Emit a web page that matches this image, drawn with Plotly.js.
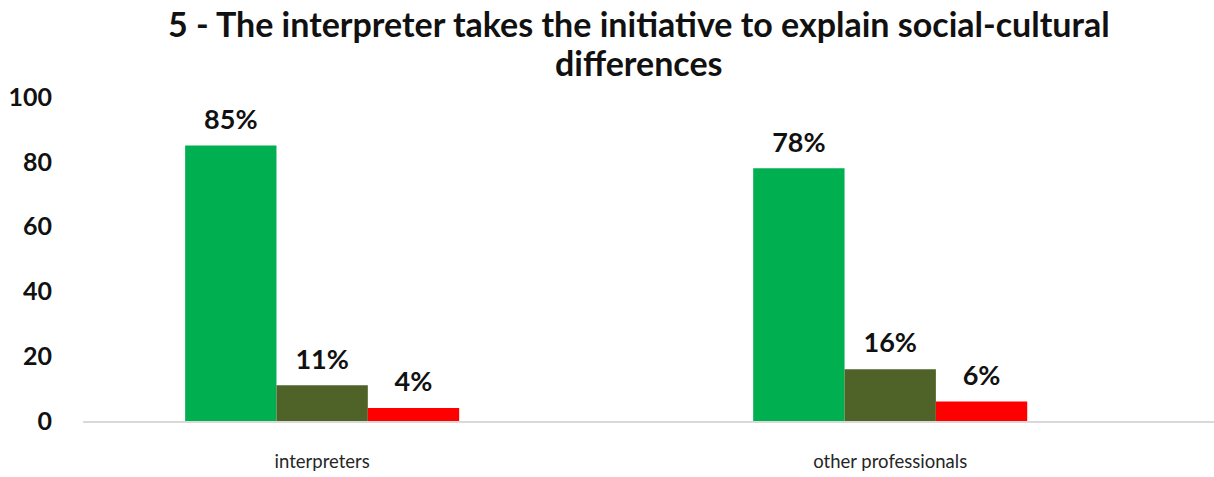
<!DOCTYPE html>
<html>
<head>
<meta charset="utf-8">
<script src="https://cdn.plot.ly/plotly-3.0.1.min.js"></script>
<style>html,body{margin:0;padding:0;background:#fff;}#chart{width:1214px;height:477px;}</style>
</head>
<body>
<div id="chart"></div>
<script>
const categories = ["interpreters", "other professionals"];
const seriesNames = ["Yes", "Partly", "No"];
const seriesColors = ["#00B050", "#4F6228", "#FF0000"];
const yesValues = [85, 78];
const partlyValues = [11, 16];
const noValues = [4, 6];
const yTicks = [0, 20, 40, 60, 80, 100];
const titleLines = ["5 - The interpreter takes the initiative to explain social-cultural", "differences"];

const seriesValues = [yesValues, partlyValues, noValues];
const traces = seriesValues.map((vals, i) => ({
  type: "bar",
  name: seriesNames[i],
  x: categories,
  y: vals,
  marker: {color: seriesColors[i]},
  text: vals.map(v => v + "%"),
  texttemplate: "<span style='font-size:27px'>%{text}</span><br> ",
  textposition: "outside",
  constraintext: "none",
  cliponaxis: false,
  textfont: {family: "Lato", size: 9, color: "#111", weight: 700},
  hoverinfo: "skip"
}));

const titleFont = {family: "Lato", size: 34, color: "#111", weight: 700};
const annotations = [
  {text: titleLines[0], xref: "paper", yref: "paper", x: 0.4915, y: 1.228, xanchor: "center", yanchor: "middle", showarrow: false, font: titleFont},
  {text: titleLines[1], xref: "paper", yref: "paper", x: 0.4915, y: 1.108, xanchor: "center", yanchor: "middle", showarrow: false, font: titleFont}
];

const layout = {
  width: 1214, height: 477,
  margin: {l: 83, r: 0, t: 97, b: 56},
  paper_bgcolor: "#fff", plot_bgcolor: "#fff",
  showlegend: false,
  barmode: "group",
  bargap: 0.5176,
  bargroupgap: 0,
  annotations: annotations,
  xaxis: {
    range: [-0.421, 1.57],
    showline: true, linecolor: "#d9d9d9", linewidth: 2,
    ticks: "", showgrid: false, zeroline: false,
    tickfont: {family: "Lato", size: 18.5, color: "#262626"},
    ticklabelstandoff: 23,
    fixedrange: true
  },
  yaxis: {
    range: [0, 100],
    tickvals: yTicks,
    showgrid: false, zeroline: false, showline: false,
    ticks: "",
    tickfont: {family: "Lato", size: 25, color: "#111", weight: 700},
    ticklabelstandoff: 30,
    fixedrange: true
  }
};

Plotly.newPlot("chart", traces, layout, {displayModeBar: false, staticPlot: true});
</script>
</body>
</html>
